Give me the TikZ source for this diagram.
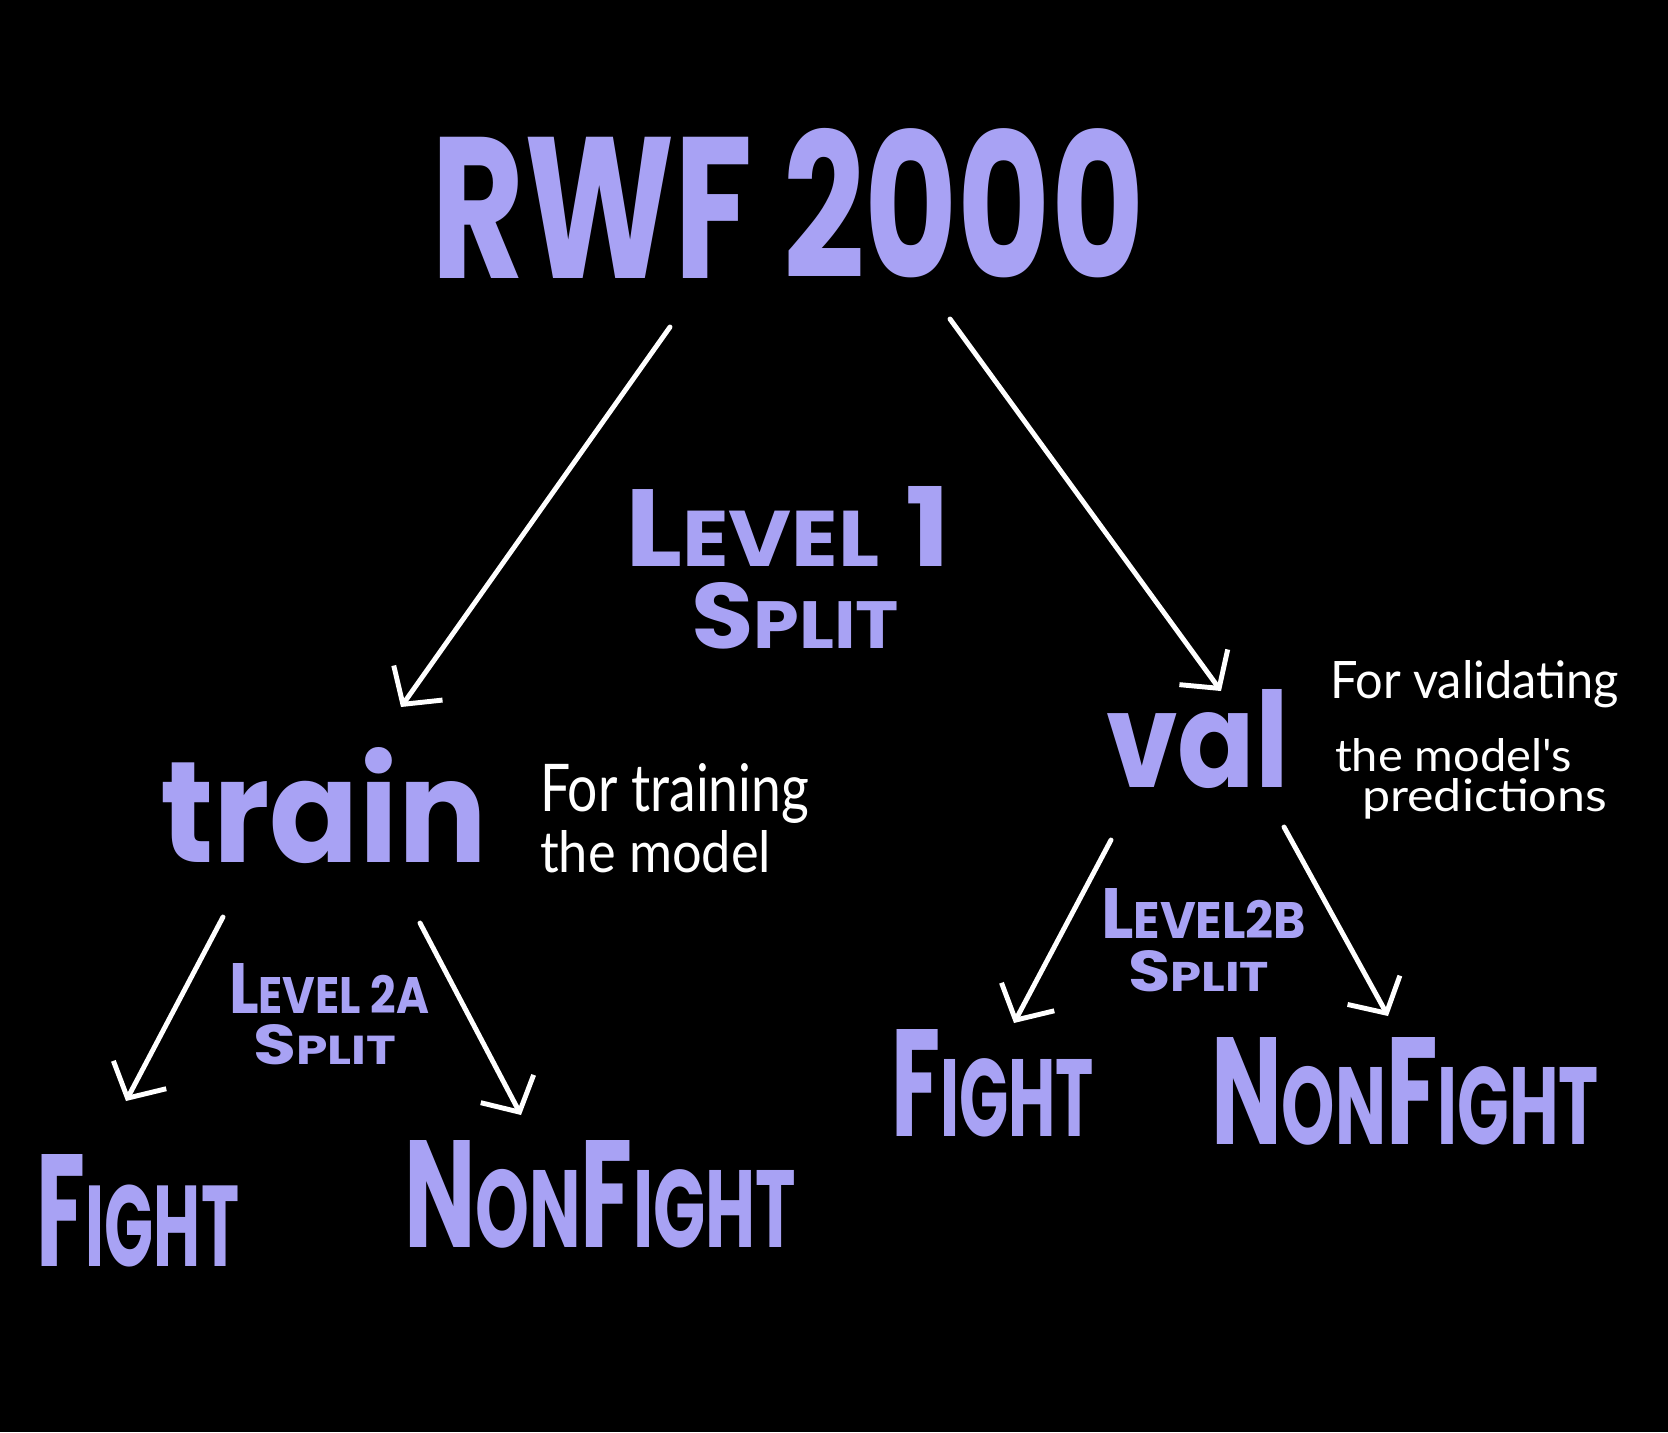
\documentclass[tikz,border=0pt]{standalone}
\usepackage{fontspec}
\usepackage{graphicx}
\usetikzlibrary{arrows.meta}
\newfontfamily\lavfont{Poppins}
\newfontfamily\notefont{Lato}
\definecolor{lavcol}{HTML}{A8A2F4}
\newlength\pxu \setlength\pxu{0.2mm}
\newcommand\fitbox[3]{\resizebox{#1\pxu}{#2\pxu}{#3}}
\newcommand\sm[1]{\scalebox{0.72}{#1}}
\begin{document}
\begin{tikzpicture}[x=0.2mm,y=-0.2mm,
  lavtext/.style={text=lavcol, inner sep=0pt, outer sep=0pt, anchor=base west, font=\lavfont\bfseries},
  notetext/.style={text=white, inner sep=0pt, outer sep=0pt, anchor=base west, font=\notefont},
  arr/.style={draw=white, line width=2.8pt, line cap=round, line join=round,
    -{Straight Barb[length=15pt,width=34pt]}}]
\fill[black] (0,0) rectangle (1668,1432);
\useasboundingbox (0,0) rectangle (1668,1432);

% title
\node[lavtext] (rwf) at (431,278) {\fitbox{713}{150}{RWF 2000}};
\node[lavtext] (lvl1) at (625,566) {\fitbox{325}{80}{L\sm{EVEL} 1}};
\node[lavtext] (split1) at (691,648) {\fitbox{208}{66}{S\sm{PLIT}}};

% train side
\node[lavtext] (train) at (160,862) {\fitbox{327}{115}{train}};
\node[notetext] (trn1) at (540,811) {\fitbox{269}{48}{For training}};
\node[notetext] (trn2) at (540,872) {\fitbox{231}{42}{the model}};
\node[lavtext] (lvl2a) at (229,1013) {\fitbox{200}{50}{L\sm{EVEL 2A}}};
\node[lavtext] (split2a) at (253,1064) {\fitbox{143}{40}{S\sm{PLIT}}};
\node[lavtext] (fight1) at (37,1266) {\fitbox{202}{112}{F\sm{IGHT}}};
\node[lavtext] (nonf1) at (404,1247) {\fitbox{392}{107}{N\sm{ON}F\sm{IGHT}}};

% val side
\node[lavtext] (val) at (1106,787) {\fitbox{183}{98}{val}};
\node[notetext] (vn1) at (1330,698) {\fitbox{289}{38}{For validating}};
\node[notetext] (vn2) at (1335,771) {\fitbox{237}{33}{the model's}};
\node[notetext] (vn3) at (1362,811) {\fitbox{245}{33}{predictions}};
\node[lavtext] (lvl2b) at (1101,938) {\fitbox{205}{50}{L\sm{EVEL2B}}};
\node[lavtext] (split2b) at (1128,991) {\fitbox{141}{41}{S\sm{PLIT}}};
\node[lavtext] (fight2) at (891,1136) {\fitbox{203}{107}{F\sm{IGHT}}};
\node[lavtext] (nonf2) at (1211,1144) {\fitbox{388}{107}{N\sm{ON}F\sm{IGHT}}};

% connector ends
\coordinate (rwfL) at (670,327);
\coordinate (rwfR) at (950,319);
\coordinate (trainIn) at (401,707);
\coordinate (valIn) at (1221,691);
\coordinate (trainL) at (223,917);
\coordinate (trainR) at (420,923);
\coordinate (fight1In) at (126,1101);
\coordinate (nonf1In) at (521,1115);
\coordinate (valL) at (1111,840);
\coordinate (valR) at (1284,827);
\coordinate (fight2In) at (1014,1023);
\coordinate (nonf2In) at (1388,1016);

\draw[arr] (rwfL) -- (trainIn);
\draw[arr] (rwfR) -- (valIn);
\draw[arr] (trainL) -- (fight1In);
\draw[arr] (trainR) -- (nonf1In);
\draw[arr] (valL) -- (fight2In);
\draw[arr] (valR) -- (nonf2In);
\end{tikzpicture}
\end{document}
